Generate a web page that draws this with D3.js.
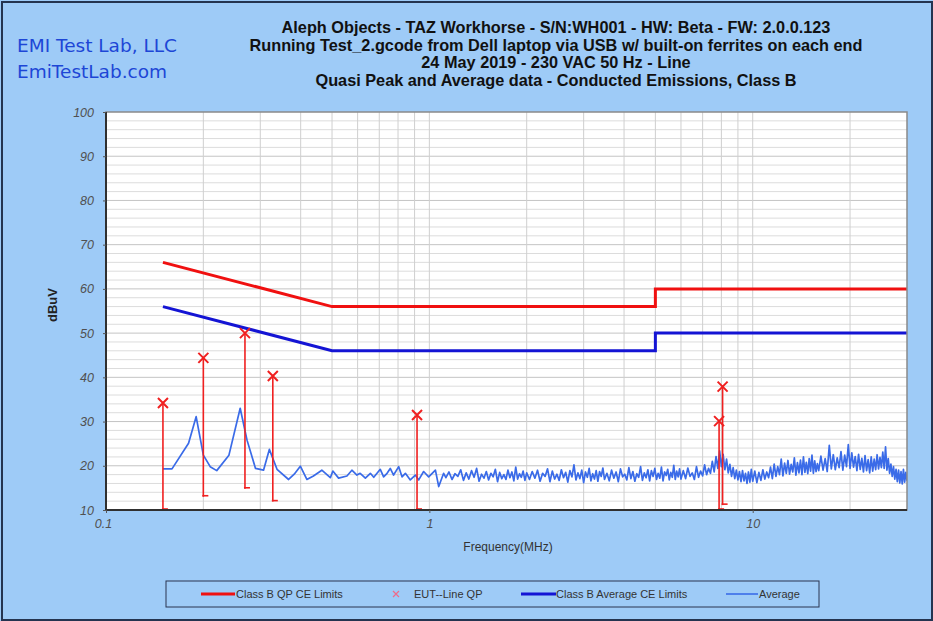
<!DOCTYPE html>
<html>
<head>
<meta charset="utf-8">
<script src="https://cdnjs.cloudflare.com/ajax/libs/d3/7.8.5/d3.min.js"></script>
<style>
body { margin: 0; background: #9ecbf7; }
svg { display: block; font-family: "Liberation Sans", Arial, sans-serif; }
</style>
</head>
<body>
<div id="chart"></div>
<script>
'use strict';
// CISPR class B limit lines (MHz, dBuV)
const limitFreq = [0.15, 0.5, 5, 5, 30];
const qpLimit = [66, 56, 56, 60, 60];
const avgLimit = [56, 46, 46, 50, 50];

// quasi peak readings, with the lower end of each stem
const qpFreq = [0.15, 0.2, 0.269, 0.328, 0.916, 7.87, 8.07];
const qpLevel = [34.2, 44.4, 50.0, 40.3, 31.5, 30.1, 37.9];
const qpLow = [10, 13.0, 14.8, 11.9, 10, 10, 11.1];

// average trace, [MHz, dBuV]
const avgTrace = [
    [0.15,19.3],[0.16,19.3],[0.18,25.1],[0.19,31.1],[0.20,22.4],[0.21,19.8],[0.22,18.9],[0.24,22.4],
    [0.26,33.0],[0.273,25.8],[0.29,19.4],[0.307,19.0],[0.32,23.7],[0.338,19.2],[0.367,16.9],[0.382,18.1],
    [0.399,19.9],[0.418,16.9],[0.438,17.7],[0.465,19.0],[0.494,17.3],[0.503,18.8],[0.524,17.2],[0.556,17.7],
    [0.576,19.0],[0.597,17.9],[0.611,18.3],[0.634,17.2],[0.657,18.3],[0.673,17.4],[0.705,19.2],[0.722,17.5],
    [0.740,18.3],[0.757,19.4],[0.775,17.9],[0.804,19.8],[0.823,17.5],[0.843,18.3],[0.873,16.8],[0.905,17.9],
    [0.927,16.8],[0.960,18.7],[0.995,17.5],[1.044,19.0],[1.069,15.3],[1.107,18.3],
    [1.125,17.3],[1.15,18.6],[1.175,16.9],[1.2,18.2],[1.225,17.6],[1.25,19.1],[1.275,16.7],[1.3,18.4],
    [1.325,17.0],[1.35,18.9],[1.375,17.4],[1.4,19.4],[1.425,16.5],[1.45,18.1],[1.475,17.2],[1.5,18.7],
    [1.525,16.8],[1.55,18.3],[1.575,17.5],[1.6,19.2],[1.625,16.4],[1.65,18.5],[1.675,17.1],[1.7,18.0],
    [1.725,16.9],[1.75,19.0],[1.775,17.3],[1.8,18.6],[1.825,16.6],[1.85,19.7],[1.875,17.0],[1.9,18.2],
    [1.925,17.4],[1.95,18.8],[1.975,16.7],[2.0,18.4],
    [2.04,16.9],[2.08,18.7],[2.12,17.2],[2.16,19.0],[2.2,16.5],[2.24,18.3],[2.28,17.6],[2.32,19.3],
    [2.36,16.4],[2.4,18.8],[2.44,17.0],[2.48,18.1],[2.52,16.7],[2.56,19.1],[2.6,17.3],[2.64,18.5],
    [2.68,16.3],[2.72,18.9],[2.76,17.5],[2.8,20.2],[2.84,16.8],[2.88,18.4],[2.92,17.1],[2.96,19.0],
    [3.0,16.2],[3.04,18.6],[3.08,17.4],[3.12,19.4],[3.16,16.6],[3.2,18.2],[3.24,17.0],[3.28,18.9],
    [3.32,16.5],[3.36,18.7],[3.4,17.6],[3.44,19.5],[3.48,16.9],
    [3.54,18.3],[3.60,16.6],[3.66,19.0],[3.72,17.2],[3.78,18.6],[3.84,16.4],[3.90,19.3],[3.96,17.5],
    [4.02,18.1],[4.08,16.8],[4.14,19.6],[4.20,17.1],[4.26,18.7],[4.32,16.5],[4.38,18.2],[4.44,17.4],
    [4.50,19.8],[4.56,16.7],[4.62,18.4],[4.68,17.3],[4.74,19.1],[4.80,16.6],[4.86,18.9],[4.92,17.6],
    [4.98,19.4],[5.04,16.9],[5.10,18.3],[5.16,17.2],[5.22,19.7],[5.28,16.6],[5.34,18.6],[5.40,17.8],
    [5.46,19.2],[5.52,16.8],[5.58,18.5],[5.64,17.4],[5.70,20.1],[5.76,16.9],[5.82,18.8],[5.88,17.5],
    [5.94,19.3],[6.00,17.0],
    [6.1,18.9],[6.2,17.1],[6.3,19.5],[6.4,17.6],[6.5,18.4],[6.6,16.9],[6.7,19.8],[6.8,17.4],
    [6.9,18.8],[7.0,17.7],[7.1,20.2],[7.2,18.0],[7.3,19.4],[7.4,18.3],[7.5,21.0],[7.6,18.6],
    [7.7,22.1],[7.8,19.4],[7.9,23.4],[8.0,19.8],[8.1,22.6],[8.2,19.1],[8.3,21.5],[8.4,18.4],
    [8.5,20.3],[8.6,17.6],[8.7,19.6],[8.8,17.1],[8.9,19.0],[9.0,16.8],[9.1,18.7],[9.2,16.4],
    [9.3,18.9],[9.4,16.6],[9.5,18.3],[9.6,16.0],[9.7,18.6],[9.8,16.3],[9.9,19.2],[10.0,16.5],
    [10.15,18.8],[10.3,16.2],[10.45,18.5],[10.6,16.7],[10.75,19.1],[10.9,17.0],[11.05,18.6],[11.2,17.3],
    [11.35,19.7],[11.5,17.1],[11.65,20.4],[11.8,17.6],[11.95,19.8],[12.1,18.0],[12.25,21.5],[12.4,17.7],
    [12.55,20.6],[12.7,18.3],[12.85,21.2],[13.0,18.1],[13.15,20.3],[13.3,18.6],[13.45,21.8],[13.6,17.9],
    [13.75,20.7],[13.9,18.4],[14.05,21.3],[14.2,18.0],[14.35,22.0],[14.5,18.5],[14.65,20.8],[14.8,18.2],
    [14.95,21.6],[15.1,18.8],[15.25,22.4],[15.4,18.3],[15.55,21.1],[15.7,18.7],[15.85,20.5],[16.0,18.9],
    [16.25,22.2],[16.5,19.0],[16.75,21.6],[17.0,18.7],[17.25,24.6],[17.5,19.3],[17.75,22.5],[18.0,19.1],
    [18.25,21.8],[18.5,19.6],[18.75,23.2],[19.0,19.0],[19.25,22.4],[19.5,19.8],[19.75,24.8],[20.0,19.4],
    [20.25,22.9],[20.5,19.7],[20.75,22.1],[21.0,18.9],[21.25,22.6],[21.5,19.2],[21.75,21.7],[22.0,18.6],
    [22.25,22.3],[22.5,18.9],[22.75,21.4],[23.0,18.4],[23.25,22.0],[23.5,18.8],[23.75,21.5],[24.0,19.1],
    [24.25,22.5],[24.5,19.3],[24.75,21.9],[25.0,19.6],[25.25,23.1],[25.5,19.4],[25.75,24.3],[26.0,19.0],
    [26.25,21.6],[26.5,18.3],[26.75,20.4],[27.0,17.6],[27.25,19.8],[27.5,17.0],[27.75,19.2],[28.0,16.4],
    [28.25,19.0],[28.5,16.1],[28.75,18.7],[29.0,15.9],[29.25,19.2],[29.5,16.3],[29.75,18.5],[30.0,16.6]
];

const yTicks = [10, 20, 30, 40, 50, 60, 70, 80, 90, 100];
const xTicks = [0.1, 1, 10];
const xTickLabels = ["0.1", "1", "10"];
const titleLines = [
    "Aleph Objects - TAZ Workhorse - S/N:WH001 - HW: Beta - FW: 2.0.0.123",
    "Running Test_2.gcode from Dell laptop via USB w/ built-on ferrites on each end",
    "24 May 2019 - 230 VAC 50 Hz - Line",
    "Quasi Peak and Average data - Conducted Emissions, Class B"
];
const logoLines = ["EMI Test Lab, LLC", "EmiTestLab.com"];
const legendItems = ["Class B QP CE Limits", "EUT--Line QP", "Class B Average CE Limits", "Average"];

//plot area inside the 933x621 picture
const W = 933, H = 621;
const plot = { left: 106, top: 112, right: 907, bottom: 510 };

const x = d3.scaleLog().domain([0.1, 30]).range([plot.left, plot.right]);
const y = d3.scaleLinear().domain([10, 100]).range([plot.bottom, plot.top]);

const svg = d3.select("#chart").append("svg")
    .attr("width", W)
    .attr("height", H);

//page frame
svg.append("rect")
    .attr("x", 0).attr("y", 0).attr("width", W).attr("height", H)
    .attr("fill", "#9ecbf7");
svg.append("rect")
    .attr("x", 2).attr("y", 2).attr("width", W - 3).attr("height", H - 3)
    .attr("fill", "none").attr("stroke", "#243450").attr("stroke-width", 2);

//logo text top left
svg.selectAll(".logo").data(logoLines).enter().append("text")
    .attr("class", "logo")
    .attr("x", 17)
    .attr("y", function(d, i) { return 52 + i * 26; })
    .style("font-family", "'DejaVu Sans', sans-serif")
    .style("font-size", "18.5px")
    .attr("fill", "#1d46d6")
    .text(function(d) { return d; });

//title block
svg.selectAll(".title").data(titleLines).enter().append("text")
    .attr("class", "title")
    .attr("x", 556)
    .attr("y", function(d, i) { return 33 + i * 17.7; })
    .attr("text-anchor", "middle")
    .style("font-size", "16.3px")
    .style("font-weight", "bold")
    .attr("fill", "#111")
    .text(function(d) { return d; });

//white plot background
svg.append("rect")
    .attr("x", plot.left).attr("y", plot.top)
    .attr("width", plot.right - plot.left).attr("height", plot.bottom - plot.top)
    .attr("fill", "#fff");

//horizontal grid every 2 dB
svg.append("g")
    .selectAll("line").data(d3.range(12, 100, 2)).enter().append("line")
    .attr("x1", plot.left).attr("x2", plot.right)
    .attr("y1", function(d) { return y(d); })
    .attr("y2", function(d) { return y(d); })
    .attr("stroke", function(d) { return d % 10 === 0 ? "#c4c4c4" : "#dcdcdc"; })
    .attr("stroke-width", 1);

//vertical log grid
const vgrid = [];
[0.1, 1, 10].forEach(function(dec) {
    for (let k = 1; k <= 9; k++) {
        const f = dec * k;
        if (f > 0.1 && f < 30) vgrid.push(f);
    }
});
svg.append("g")
    .selectAll("line").data(vgrid).enter().append("line")
    .attr("x1", function(d) { return x(d); })
    .attr("x2", function(d) { return x(d); })
    .attr("y1", plot.top).attr("y2", plot.bottom)
    .attr("stroke", "#cfcfcf")
    .attr("stroke-width", 1);

//clip the traces to the plot
svg.append("clipPath").attr("id", "clip")
    .append("rect")
    .attr("x", plot.left).attr("y", plot.top)
    .attr("width", plot.right - plot.left).attr("height", plot.bottom - plot.top);

const limitLine = d3.line()
    .x(function(d) { return x(d[0]); })
    .y(function(d) { return y(d[1]); });

svg.append("path")
    .datum(limitFreq.map(function(f, i) { return [f, qpLimit[i]]; }))
    .attr("d", limitLine)
    .attr("fill", "none").attr("stroke", "#f01010").attr("stroke-width", 3);

svg.append("path")
    .datum(limitFreq.map(function(f, i) { return [f, avgLimit[i]]; }))
    .attr("d", limitLine)
    .attr("fill", "none").attr("stroke", "#1414d4").attr("stroke-width", 3);

//average trace
svg.append("path")
    .datum(avgTrace)
    .attr("clip-path", "url(#clip)")
    .attr("d", limitLine)
    .attr("fill", "none")
    .attr("stroke", "#3a6be8")
    .attr("stroke-width", 1.7)
    .attr("stroke-linejoin", "round");

//quasi peak stems, caps and crosses
const qp = qpFreq.map(function(f, i) { return { f: f, v: qpLevel[i], lo: qpLow[i] }; });
const qpG = svg.append("g").attr("stroke", "#f02020").attr("fill", "none");
qpG.selectAll(".stem").data(qp).enter().append("line")
    .attr("x1", function(d) { return x(d.f); })
    .attr("x2", function(d) { return x(d.f); })
    .attr("y1", function(d) { return y(d.v); })
    .attr("y2", function(d) { return y(d.lo); })
    .attr("stroke-width", 1.6);
qpG.selectAll(".cap").data(qp).enter().append("line")
    .attr("x1", function(d) { return x(d.f) - 1; })
    .attr("x2", function(d) { return x(d.f) + 5; })
    .attr("y1", function(d) { return y(d.lo) - 1; })
    .attr("y2", function(d) { return y(d.lo) - 1; })
    .attr("stroke-width", 1.6);
qpG.selectAll(".cross").data(qp).enter().append("path")
    .attr("d", function(d) {
        const cx = x(d.f), cy = y(d.v), r = 5;
        return "M" + (cx - r) + "," + (cy - r) + "L" + (cx + r) + "," + (cy + r) +
            "M" + (cx - r) + "," + (cy + r) + "L" + (cx + r) + "," + (cy - r);
    })
    .attr("stroke-width", 2);

//plot frame: grey top/right, dark axes left/bottom
svg.append("rect")
    .attr("x", plot.left).attr("y", plot.top)
    .attr("width", plot.right - plot.left).attr("height", plot.bottom - plot.top)
    .attr("fill", "none").attr("stroke", "#8a8a8a").attr("stroke-width", 1.5);
svg.append("line")
    .attr("x1", plot.left).attr("x2", plot.left)
    .attr("y1", plot.top).attr("y2", plot.bottom + 1)
    .attr("stroke", "#303030").attr("stroke-width", 2);
svg.append("line")
    .attr("x1", plot.left - 1).attr("x2", plot.right)
    .attr("y1", plot.bottom).attr("y2", plot.bottom)
    .attr("stroke", "#303030").attr("stroke-width", 2);

//y axis labels
const yAxis = svg.append("g")
    .attr("transform", "translate(" + plot.left + ",0)")
    .call(d3.axisLeft(y).tickValues(yTicks).tickSize(3).tickPadding(9));
yAxis.select(".domain").remove();
yAxis.selectAll("line").attr("stroke", "#555");
yAxis.selectAll("text")
    .style("font-family", "'Liberation Sans', Arial, sans-serif")
    .style("font-size", "12.5px")
    .style("font-style", "italic")
    .attr("fill", "#505050");

//x axis labels
const xAxis = svg.append("g")
    .attr("transform", "translate(0," + plot.bottom + ")")
    .call(d3.axisBottom(x).tickValues(xTicks)
        .tickFormat(function(d, i) { return xTickLabels[i]; })
        .tickSize(3).tickPadding(6));
xAxis.select(".domain").remove();
xAxis.selectAll("line").attr("stroke", "#555");
xAxis.selectAll("text")
    .style("font-family", "'Liberation Sans', Arial, sans-serif")
    .style("font-size", "12.5px")
    .style("font-style", "italic")
    .attr("fill", "#505050");
xAxis.select(".tick text").attr("dx", -3);

//axis titles
svg.append("text")
    .attr("transform", "translate(57," + 305 + ") rotate(-90)")
    .attr("text-anchor", "middle")
    .style("font-size", "13px")
    .style("font-weight", "bold")
    .attr("fill", "#222")
    .text("dBuV");
svg.append("text")
    .attr("x", 508).attr("y", 551)
    .attr("text-anchor", "middle")
    .style("font-size", "12px")
    .attr("fill", "#333")
    .text("Frequency(MHz)");

//legend
const legend = svg.append("g");
legend.append("rect")
    .attr("x", 166).attr("y", 581).attr("width", 653).attr("height", 26)
    .attr("fill", "none").attr("stroke", "#2a3550").attr("stroke-width", 1);
const ly = 594;
const legendKeys = [
    { type: "line", x0: 201, x1: 235, color: "#f01010", w: 3, tx: 236 },
    { type: "cross", x0: 396, color: "#f06a8a", tx: 414 },
    { type: "line", x0: 521, x1: 556, color: "#1414d4", w: 3, tx: 556 },
    { type: "line", x0: 726, x1: 758, color: "#3a6be8", w: 1.6, tx: 759 }
];
legendKeys.forEach(function(k, i) {
    if (k.type === "line") {
        legend.append("line")
            .attr("x1", k.x0).attr("x2", k.x1).attr("y1", ly).attr("y2", ly)
            .attr("stroke", k.color).attr("stroke-width", k.w);
    } else {
        legend.append("path")
            .attr("d", "M" + (k.x0 - 3) + "," + (ly - 3) + "L" + (k.x0 + 3) + "," + (ly + 3) +
                "M" + (k.x0 - 3) + "," + (ly + 3) + "L" + (k.x0 + 3) + "," + (ly - 3))
            .attr("stroke", k.color).attr("stroke-width", 1.2);
    }
    legend.append("text")
        .attr("x", k.tx).attr("y", ly + 4)
        .style("font-size", "11px")
        .attr("fill", "#333")
        .text(legendItems[i]);
});
</script>
</body>
</html>
